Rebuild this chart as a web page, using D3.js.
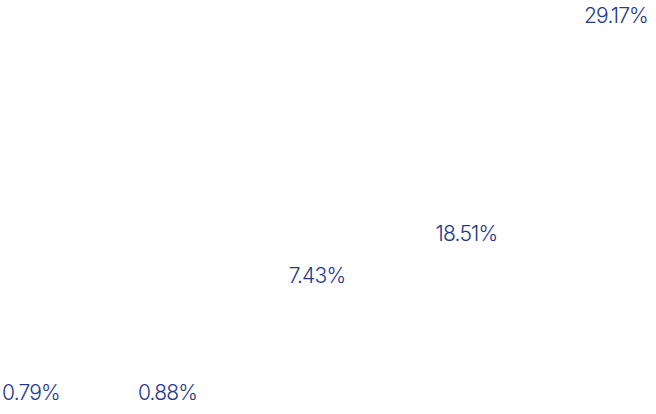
<!DOCTYPE html>
<html>
<head>
<meta charset="utf-8">
<script src="https://cdn.jsdelivr.net/npm/d3@7"></script>
<style>
  html, body { margin: 0; padding: 0; background: #fff; }
  svg { display: block; }
</style>
</head>
<body>
<div class="chartWrapper"></div>
<script>
// label text (share, %)
var shareLabels = [0.79, 0.88, 7.43, 18.51, 29.17];
var barValues = [0, 0, 31.0, 42.2, 100];
var categories = ["a", "b", "c", "d", "e"];

var width = 656,
    height = 414;

var svg = d3.select(".chartWrapper")
    .append("svg")
    .attr("width", width)
    .attr("height", height);

var xScale = d3.scalePoint()
    .domain(categories)
    .range([18, 616]);

var yScale = d3.scaleLinear()
    .domain([0, 100])
    .range([406, 29]);

var labels = svg.selectAll(".valueLabel")
    .data(categories)
    .enter()
    .append("text")
    .attr("class", "valueLabel")
    .attr("text-anchor", "middle")
    .attr("x", function (d) { return xScale(d); })
    .attr("y", function (d, i) { return yScale(barValues[i]) - 6; })
    .attr("fill", "#26378c")
    .style("font-family", "Inter, 'Open Sans', sans-serif")
    .style("font-weight", 300)
    .style("font-size", "21px")
    .style("letter-spacing", "-0.8px")
    .text(function (d, i) { return shareLabels[i] + "%"; });

// keep labels inside the view
labels.each(function () {
    var t = d3.select(this),
        w = this.getComputedTextLength(),
        x = +t.attr("x");
    if (x - w / 2 < 2) t.attr("x", 2 + w / 2);
    if (x + w / 2 > width - 8) t.attr("x", width - 8 - w / 2);
});
</script>
</body>
</html>
